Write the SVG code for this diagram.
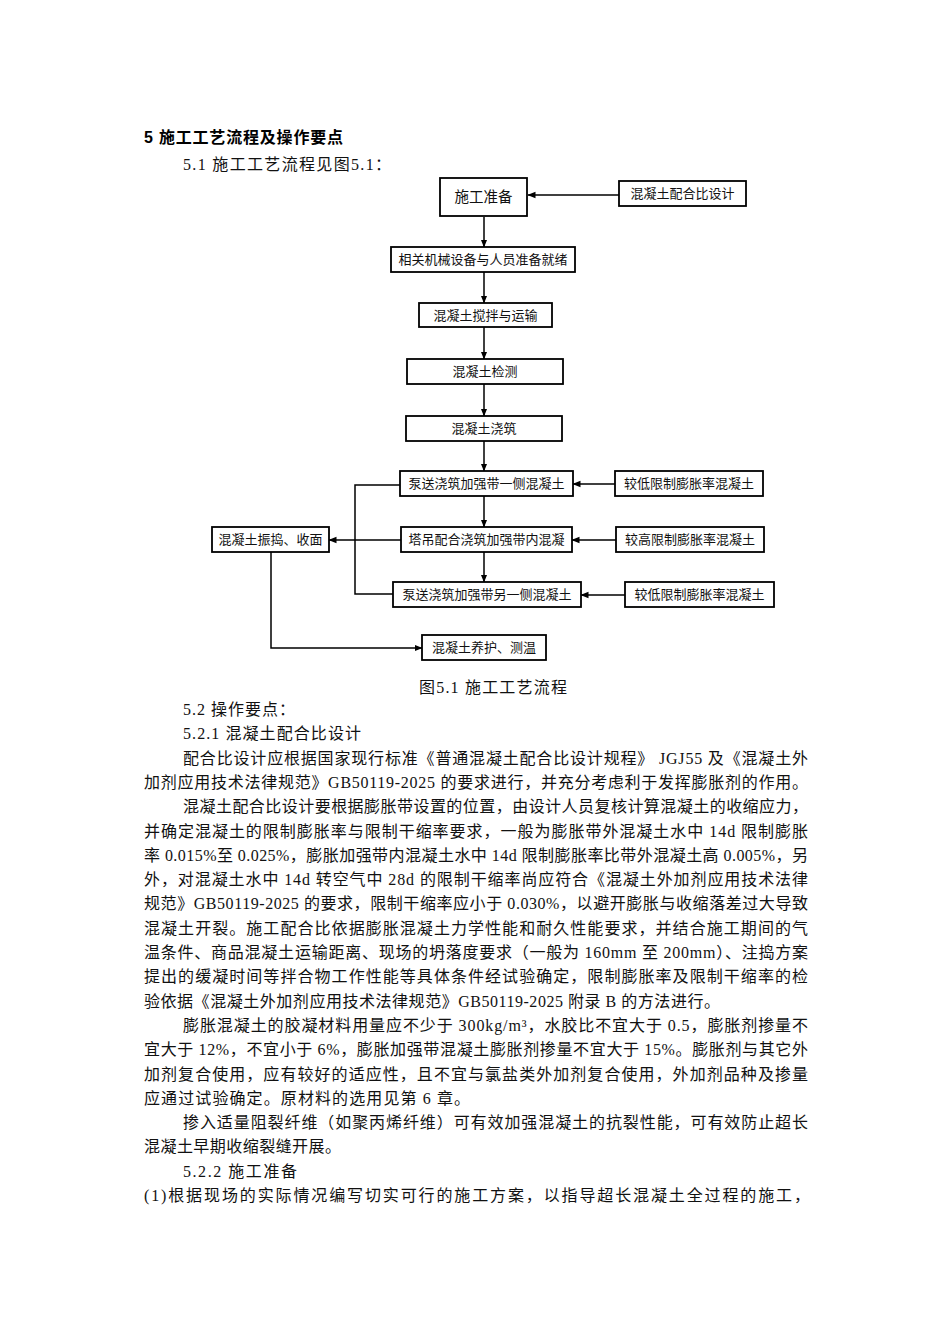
<svg xmlns="http://www.w3.org/2000/svg" width="950" height="1344" viewBox="0 0 950 1344">
<style>
.bg{fill:#fff}
.box{fill:#fff;stroke:#000;stroke-width:1.8}
.lbl{font-family:"Liberation Sans","Noto Sans CJK SC",sans-serif;font-size:13px;fill:#111;text-anchor:middle}
.con{fill:none;stroke:#000;stroke-width:1.5}
.body{font-family:"Liberation Serif","Noto Sans CJK SC",serif;font-size:16px;fill:#111}
.title{font-family:"Liberation Sans","Noto Sans CJK SC",sans-serif;font-size:16px;font-weight:bold;fill:#000}
</style>
<defs>
<marker id="arr" markerWidth="8" markerHeight="8" refX="7.5" refY="4" orient="auto" markerUnits="userSpaceOnUse">
<path d="M0,0.8 L8,4 L0,7.2 Z" fill="#000"/>
</marker>
</defs>
<rect class="bg" x="0" y="0" width="950" height="1344"/>

<text class="title" x="144" y="143" textLength="199" lengthAdjust="spacing">5 施工工艺流程及操作要点</text>
<text class="body" x="183" y="170" textLength="208" lengthAdjust="spacing">5.1 施工工艺流程见图5.1：</text>

<g id="connectors">
<line class="con" x1="619" y1="195" x2="528" y2="195" marker-end="url(#arr)"/>
<line class="con" x1="484" y1="217" x2="484" y2="247" marker-end="url(#arr)"/>
<line class="con" x1="484" y1="272" x2="484" y2="303" marker-end="url(#arr)"/>
<line class="con" x1="484" y1="327" x2="484" y2="359" marker-end="url(#arr)"/>
<line class="con" x1="484" y1="384" x2="484" y2="416" marker-end="url(#arr)"/>
<line class="con" x1="484" y1="441" x2="484" y2="471" marker-end="url(#arr)"/>
<line class="con" x1="484" y1="496" x2="484" y2="527" marker-end="url(#arr)"/>
<line class="con" x1="484" y1="552" x2="484" y2="582" marker-end="url(#arr)"/>
<line class="con" x1="615" y1="484" x2="573" y2="484" marker-end="url(#arr)"/>
<line class="con" x1="616" y1="540" x2="572" y2="540" marker-end="url(#arr)"/>
<line class="con" x1="625" y1="595" x2="581" y2="595" marker-end="url(#arr)"/>
<polyline class="con" points="400,485 355,485 355,594 393,594"/>
<line class="con" x1="401" y1="540" x2="329" y2="540" marker-end="url(#arr)"/>
<polyline class="con" points="271,552 271,648 422,648" marker-end="url(#arr)"/>
</g>

<g id="n1"><rect class="box" x="440" y="178" width="87" height="38"/><text class="lbl" x="483.5" y="202" style="font-size:14.5px">施工准备</text></g>
<g id="n2"><rect class="box" x="619" y="181" width="127" height="25"/><text class="lbl" x="682.5" y="198">混凝土配合比设计</text></g>
<g id="n3"><rect class="box" x="391" y="247" width="184" height="25"/><text class="lbl" x="483" y="264">相关机械设备与人员准备就绪</text></g>
<g id="n4"><rect class="box" x="419" y="303" width="133" height="24"/><text class="lbl" x="485.5" y="319.5">混凝土搅拌与运输</text></g>
<g id="n5"><rect class="box" x="407" y="359" width="156" height="25"/><text class="lbl" x="485" y="376">混凝土检测</text></g>
<g id="n6"><rect class="box" x="406" y="416" width="156" height="25"/><text class="lbl" x="484" y="433">混凝土浇筑</text></g>
<g id="n7"><rect class="box" x="400" y="471" width="173" height="25"/><text class="lbl" x="486.5" y="488">泵送浇筑加强带一侧混凝土</text></g>
<g id="n8"><rect class="box" x="615" y="471" width="148" height="25"/><text class="lbl" x="689" y="488">较低限制膨胀率混凝土</text></g>
<g id="n9"><rect class="box" x="401" y="527" width="171" height="25"/><text class="lbl" x="486.5" y="544">塔吊配合浇筑加强带内混凝</text></g>
<g id="n10"><rect class="box" x="616" y="527" width="148" height="25"/><text class="lbl" x="690" y="544">较高限制膨胀率混凝土</text></g>
<g id="n11"><rect class="box" x="393" y="582" width="188" height="25"/><text class="lbl" x="487" y="599">泵送浇筑加强带另一侧混凝土</text></g>
<g id="n12"><rect class="box" x="625" y="582" width="149" height="25"/><text class="lbl" x="699.5" y="599">较低限制膨胀率混凝土</text></g>
<g id="n13"><rect class="box" x="212" y="527" width="117" height="25"/><text class="lbl" x="270.5" y="544">混凝土振捣、收面</text></g>
<g id="n14"><rect class="box" x="422" y="635" width="124" height="25"/><text class="lbl" x="484" y="652">混凝土养护、测温</text></g>

<text class="body" x="419" y="693" textLength="148" lengthAdjust="spacing">图5.1 施工工艺流程</text>

<g id="body">
<text class="body" x="183" y="715" textLength="112" lengthAdjust="spacing">5.2 操作要点：</text>
<text class="body" x="183" y="739.3" textLength="178" lengthAdjust="spacing">5.2.1 混凝土配合比设计</text>
<text class="body" x="183" y="763.6" textLength="625" lengthAdjust="spacing">配合比设计应根据国家现行标准《普通混凝土配合比设计规程》 JGJ55 及《混凝土外</text>
<text class="body" x="144" y="787.9" textLength="664" lengthAdjust="spacing">加剂应用技术法律规范》GB50119-2025 的要求进行，并充分考虑利于发挥膨胀剂的作用。</text>
<text class="body" x="183" y="812.2" textLength="625" lengthAdjust="spacing">混凝土配合比设计要根据膨胀带设置的位置，由设计人员复核计算混凝土的收缩应力，</text>
<text class="body" x="144" y="836.5" textLength="664" lengthAdjust="spacing">并确定混凝土的限制膨胀率与限制干缩率要求，一般为膨胀带外混凝土水中 14d 限制膨胀</text>
<text class="body" x="144" y="860.8" textLength="664" lengthAdjust="spacing">率 0.015%至 0.025%，膨胀加强带内混凝土水中 14d 限制膨胀率比带外混凝土高 0.005%，另</text>
<text class="body" x="144" y="885.1" textLength="664" lengthAdjust="spacing">外，对混凝土水中 14d 转空气中 28d 的限制干缩率尚应符合《混凝土外加剂应用技术法律</text>
<text class="body" x="144" y="909.4" textLength="664" lengthAdjust="spacing">规范》GB50119-2025 的要求，限制干缩率应小于 0.030%，以避开膨胀与收缩落差过大导致</text>
<text class="body" x="144" y="933.7" textLength="664" lengthAdjust="spacing">混凝土开裂。施工配合比依据膨胀混凝土力学性能和耐久性能要求，并结合施工期间的气</text>
<text class="body" x="144" y="958" textLength="664" lengthAdjust="spacing">温条件、商品混凝土运输距离、现场的坍落度要求（一般为 160mm 至 200mm）、注捣方案</text>
<text class="body" x="144" y="982.3" textLength="664" lengthAdjust="spacing">提出的缓凝时间等拌合物工作性能等具体条件经试验确定，限制膨胀率及限制干缩率的检</text>
<text class="body" x="144" y="1006.6" textLength="576" lengthAdjust="spacing">验依据《混凝土外加剂应用技术法律规范》GB50119-2025 附录 B 的方法进行。</text>
<text class="body" x="183" y="1030.9" textLength="625" lengthAdjust="spacing">膨胀混凝土的胶凝材料用量应不少于 300kg/m³，水胶比不宜大于 0.5，膨胀剂掺量不</text>
<text class="body" x="144" y="1055.2" textLength="664" lengthAdjust="spacing">宜大于 12%，不宜小于 6%，膨胀加强带混凝土膨胀剂掺量不宜大于 15%。膨胀剂与其它外</text>
<text class="body" x="144" y="1079.5" textLength="664" lengthAdjust="spacing">加剂复合使用，应有较好的适应性，且不宜与氯盐类外加剂复合使用，外加剂品种及掺量</text>
<text class="body" x="144" y="1103.8" textLength="326" lengthAdjust="spacing">应通过试验确定。原材料的选用见第 6 章。</text>
<text class="body" x="183" y="1128.1" textLength="625" lengthAdjust="spacing">掺入适量阻裂纤维（如聚丙烯纤维）可有效加强混凝土的抗裂性能，可有效防止超长</text>
<text class="body" x="144" y="1152.4" textLength="197" lengthAdjust="spacing">混凝土早期收缩裂缝开展。</text>
<text class="body" x="183" y="1176.7" textLength="114" lengthAdjust="spacing">5.2.2 施工准备</text>
<text class="body" x="144" y="1201" textLength="666" lengthAdjust="spacing">(1)根据现场的实际情况编写切实可行的施工方案，以指导超长混凝土全过程的施工，</text>
</g>
</svg>
